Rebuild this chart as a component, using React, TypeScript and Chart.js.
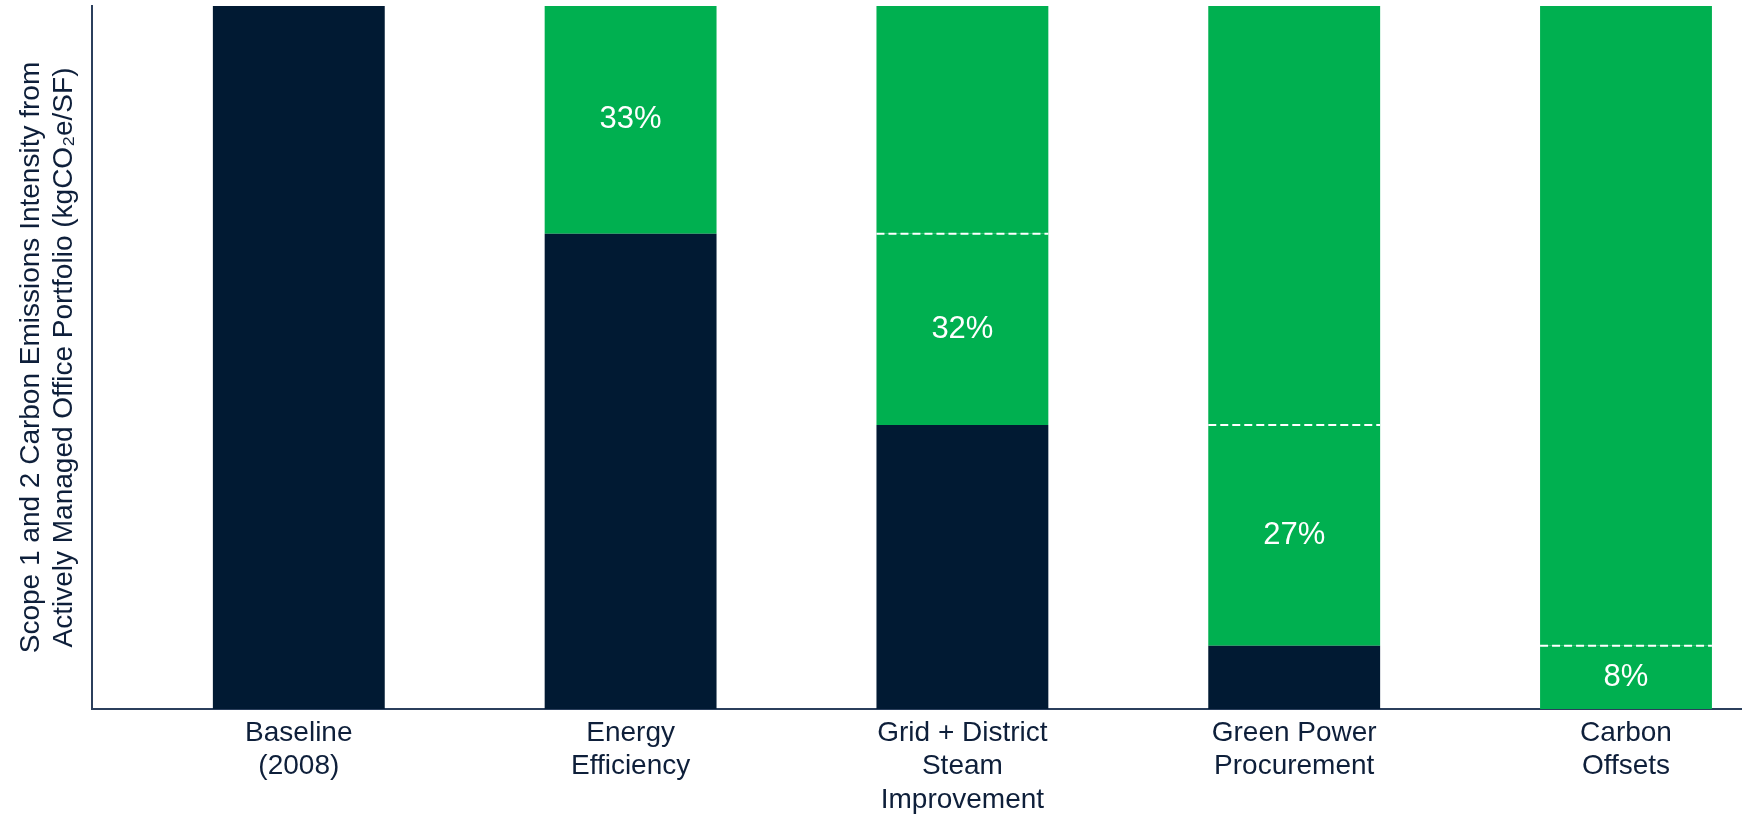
import React, { useEffect, useRef } from "react";
import { Chart, registerables } from "chart.js";

Chart.register(...registerables);

const categories: string[][] = [
  ["Baseline", "(2008)"],
  ["Energy", "Efficiency"],
  ["Grid + District", "Steam", "Improvement"],
  ["Green Power", "Procurement"],
  ["Carbon", "Offsets"],
];
const remaining: number[] = [100, 67.6, 40.4, 9, 0];
const stepReduction: number[] = [0, 32.4, 27.2, 31.4, 9];
const priorReduction: number[] = [0, 0, 32.4, 59.6, 91];
const stepLabels: string[] = ["", "33%", "32%", "27%", "8%"];
const yTitle: string[] = [
  "Scope 1 and 2 Carbon Emissions Intensity from",
  "Actively Managed Office Portfolio (kgCO\u2082e/SF)",
];

const NAVY = "#011a33";
const GREEN = "#00b050";
const TEXT = "#0e1f3a";
const FONT = "'Liberation Sans', Arial, Helvetica, sans-serif";

const overlayPlugin = {
  id: "stepOverlay",
  afterDatasetsDraw(chart: any) {
    const ctx = chart.ctx;
    const meta = chart.getDatasetMeta(1);
    ctx.save();
    meta.data.forEach((el: any, i: number) => {
      const w = el.width;
      if (priorReduction[i] > 0) {
        ctx.beginPath();
        ctx.setLineDash([8, 4]);
        ctx.strokeStyle = "#ffffff";
        ctx.lineWidth = 2;
        ctx.moveTo(el.x - w / 2, el.y);
        ctx.lineTo(el.x + w / 2, el.y);
        ctx.stroke();
      }
      if (stepLabels[i]) {
        ctx.setLineDash([]);
        ctx.fillStyle = "#ffffff";
        ctx.font = `31px ${FONT}`;
        ctx.textAlign = "center";
        ctx.textBaseline = "middle";
        ctx.fillText(stepLabels[i], el.x, (el.y + el.base) / 2);
      }
    });
    ctx.restore();
  },
};

export default function App() {
  const ref = useRef<HTMLCanvasElement | null>(null);
  useEffect(() => {
    document.body.style.margin = "0";
    const canvas = ref.current;
    if (!canvas) return;
    const toPts = (arr: number[]) => arr.map((v, i) => ({ x: i, y: v }));
    const chart = new Chart(canvas, {
      type: "bar",
      data: {
        datasets: [
          { label: "Remaining", data: toPts(remaining), backgroundColor: NAVY, borderWidth: 0 },
          { label: "Step", data: toPts(stepReduction), backgroundColor: GREEN, borderWidth: 0 },
          { label: "Prior", data: toPts(priorReduction), backgroundColor: GREEN, borderWidth: 0 },
        ],
      } as any,
      options: {
        responsive: false,
        animation: false,
        events: [],
        barPercentage: 0.518,
        categoryPercentage: 1,
        layout: { padding: { top: 6, right: 3, left: 0, bottom: 0 } },
        plugins: { legend: { display: false }, tooltip: { enabled: false } },
        scales: {
          x: {
            type: "linear",
            min: -0.6233,
            max: 4.3466,
            offset: false,
            stacked: true,
            grid: { display: false, drawTicks: false },
            border: { display: true, color: "#2b3f5c", width: 2 },
            afterBuildTicks: (scale: any) => {
              scale.ticks = categories.map((_, i) => ({ value: i }));
            },
            afterFit: (scale: any) => {
              scale.height = 109;
            },
            ticks: {
              autoSkip: false,
              maxRotation: 0,
              minRotation: 0,
              padding: 7,
              color: TEXT,
              font: { family: FONT, size: 28, lineHeight: 1.2 },
              callback: (value: any) => categories[Math.round(Number(value))] ?? "",
            },
          },
          y: {
            stacked: true,
            min: 0,
            max: 100,
            grid: { display: false, drawTicks: false },
            border: { display: true, color: "#2b3f5c", width: 2 },
            ticks: { display: false },
            afterFit: (scale: any) => {
              scale.width = 92;
            },
            title: {
              display: true,
              text: yTitle,
              color: TEXT,
              font: { family: FONT, size: 28, lineHeight: 1.2 },
              padding: { top: 14, bottom: 0 },
            },
          },
        },
      } as any,
      plugins: [overlayPlugin],
    });
    return () => chart.destroy();
  }, []);
  return (
    <canvas ref={ref} width={1744} height={818} style={{ display: "block" }} />
  );
}
